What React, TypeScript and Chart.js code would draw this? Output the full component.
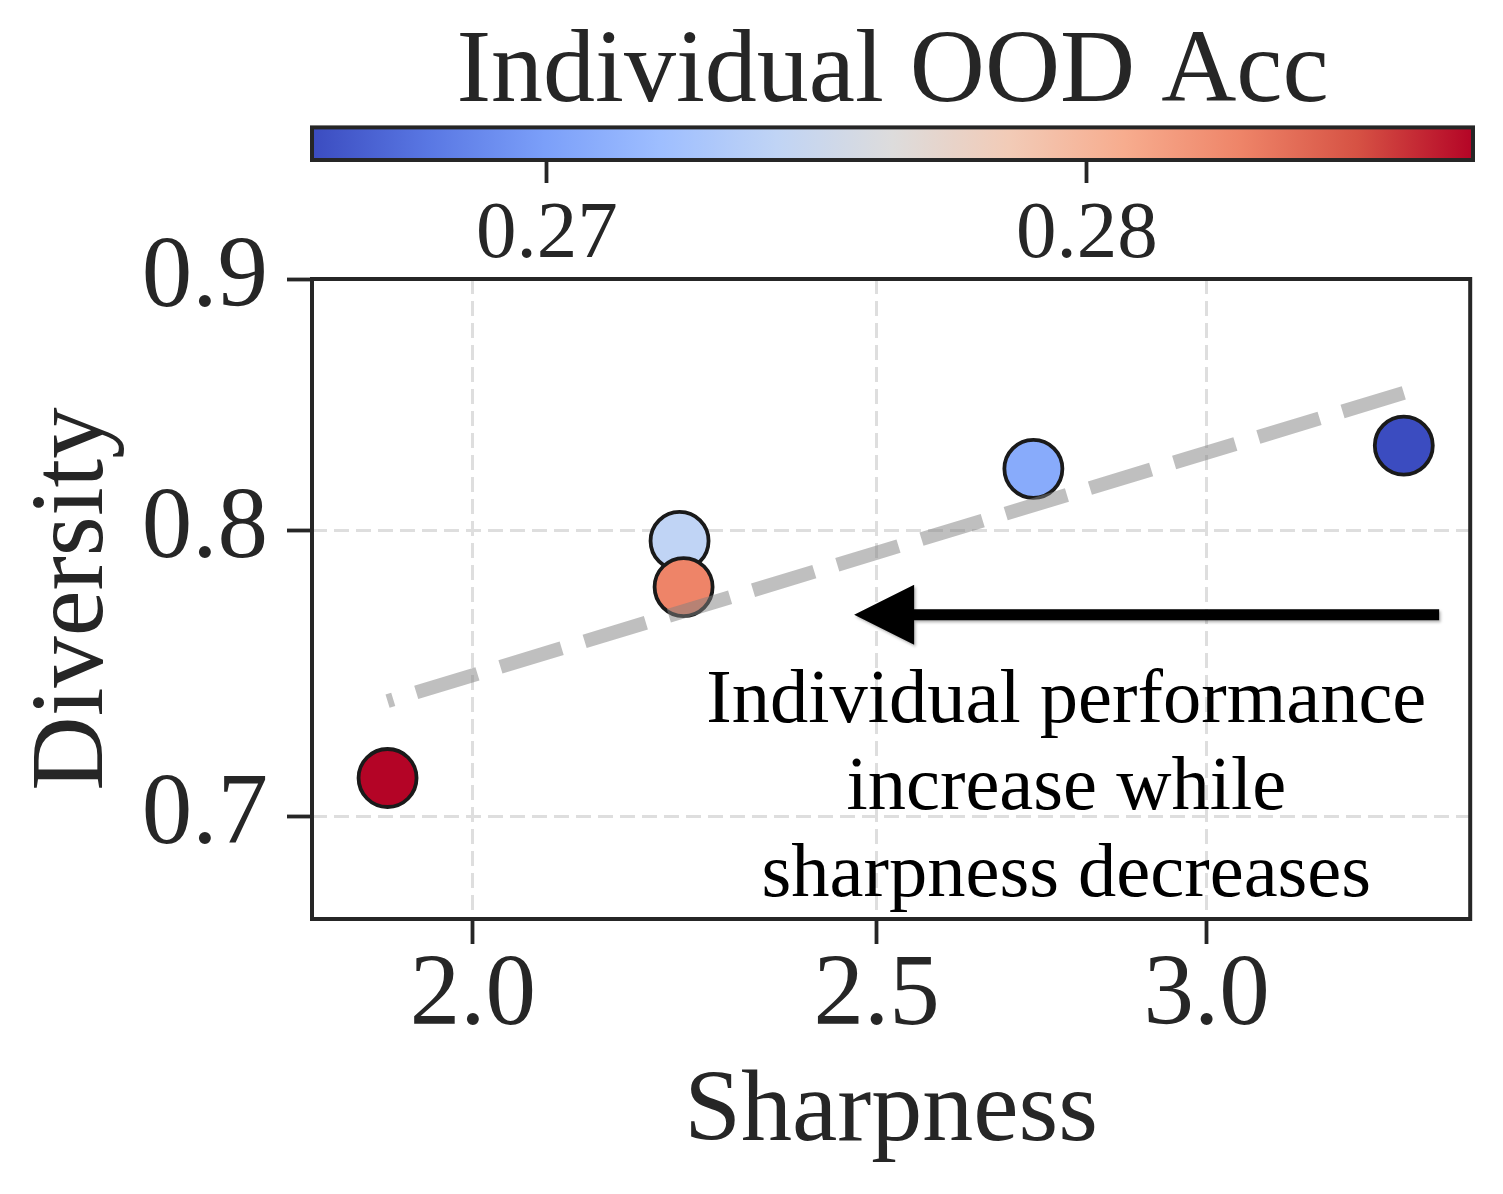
import React, { useEffect, useRef } from "react";
import { Chart, registerables } from "chart.js";

Chart.register(...registerables);

// ---------------- data ----------------
const SHARPNESS = [1.908, 2.242, 2.247, 2.726, 3.345];
const DIVERSITY = [0.7126, 0.7962, 0.7792, 0.8235, 0.8325];
const OOD_ACC = [0.28715, 0.27425, 0.28285, 0.27075, 0.26565];

const TREND_X = [3.345, 1.908];
const TREND_Y = [0.8533, 0.7387];

const X_TICKS = [2.0, 2.5, 3.0];
const Y_TICKS = [0.7, 0.8, 0.9];
const CBAR_TICKS = [0.27, 0.28];
const X_RANGE = [1.83, 3.47];
const Y_RANGE = [0.6671, 0.9];

const ARROW_FROM = [3.411, 0.7692];
const ARROW_TO = [2.469, 0.7692];
const NOTE_AT = [2.776, 0.7315];
const NOTE_LINES = ["Individual performance", "increase while", "sharpness decreases"];

const X_TITLE = "Sharpness";
const Y_TITLE = "Diversity";
const CBAR_TITLE = "Individual OOD Acc";

const COOLWARM = [
  "#3b4cc0", "#5977e3", "#7b9ff9", "#9ebeff", "#c0d4f5", "#dddcdc",
  "#f2cbb7", "#f7ac8e", "#ee8468", "#d65244", "#b40426",
];

// ---------------- helpers ----------------
const FONT = "Liberation Serif";
const INK = "#262626";

function hexToRgb(h: string) {
  return [parseInt(h.slice(1, 3), 16), parseInt(h.slice(3, 5), 16), parseInt(h.slice(5, 7), 16)];
}
function coolwarm(t: number) {
  const c = Math.max(0, Math.min(1, t)) * (COOLWARM.length - 1);
  const i = Math.min(Math.floor(c), COOLWARM.length - 2);
  const f = c - i;
  const a = hexToRgb(COOLWARM[i]);
  const b = hexToRgb(COOLWARM[i + 1]);
  const r = a.map((v, k) => Math.round(v + (b[k] - v) * f));
  return `rgb(${r[0]},${r[1]},${r[2]})`;
}

const VMIN = Math.min(...OOD_ACC);
const VMAX = Math.max(...OOD_ACC);

const framePlugin = {
  id: "frameAndNote",
  afterDraw(chart: any) {
    const { ctx, chartArea: a, scales } = chart;
    const xs = scales.x;
    const ys = scales.y;
    ctx.save();
    ctx.strokeStyle = INK;
    ctx.lineWidth = 4;
    ctx.strokeRect(a.left, a.top, a.right - a.left, a.bottom - a.top);
    ctx.restore();

    // arrow
    const x0 = xs.getPixelForValue(ARROW_FROM[0]);
    const y0 = ys.getPixelForValue(ARROW_FROM[1]);
    const x1 = xs.getPixelForValue(ARROW_TO[0]);
    const y1 = ys.getPixelForValue(ARROW_TO[1]);
    const headL = 60;
    const headW = 30;
    const shaftW = 11;
    const len = Math.hypot(x1 - x0, y1 - y0);
    ctx.save();
    ctx.fillStyle = "#000";
    ctx.shadowColor = "rgba(0,0,0,0.3)";
    ctx.shadowBlur = 3;
    ctx.shadowOffsetX = 1.5;
    ctx.shadowOffsetY = 2;
    ctx.translate(x1, y1);
    ctx.rotate(Math.atan2(y1 - y0, x1 - x0));
    ctx.beginPath();
    ctx.moveTo(0, 0);
    ctx.lineTo(-headL, -headW);
    ctx.lineTo(-headL, -shaftW / 2);
    ctx.lineTo(-len, -shaftW / 2);
    ctx.lineTo(-len, shaftW / 2);
    ctx.lineTo(-headL, shaftW / 2);
    ctx.lineTo(-headL, headW);
    ctx.closePath();
    ctx.fill();
    ctx.restore();

    // note text
    ctx.save();
    ctx.font = `76.5px "${FONT}"`;
    ctx.fillStyle = "#000";
    ctx.textAlign = "center";
    ctx.textBaseline = "alphabetic";
    const tx = xs.getPixelForValue(NOTE_AT[0]);
    const ty = ys.getPixelForValue(NOTE_AT[1]);
    NOTE_LINES.forEach((line, i) => ctx.fillText(line, tx, ty + i * 87));
    ctx.restore();
  },
};

const cbarPlugin = {
  id: "cbar",
  beforeDatasetsDraw(chart: any) {
    const { ctx, chartArea: a } = chart;
    const g = ctx.createLinearGradient(a.left, 0, a.right, 0);
    COOLWARM.forEach((c, i) => g.addColorStop(i / (COOLWARM.length - 1), c));
    ctx.save();
    ctx.fillStyle = g;
    ctx.fillRect(a.left, a.top, a.right - a.left, a.bottom - a.top);
    ctx.strokeStyle = INK;
    ctx.lineWidth = 4;
    ctx.strokeRect(a.left, a.top, a.right - a.left, a.bottom - a.top);
    ctx.restore();
  },
};

export default function App() {
  const mainRef = useRef<HTMLCanvasElement | null>(null);
  const cbarRef = useRef<HTMLCanvasElement | null>(null);

  useEffect(() => {
    document.body.style.margin = "0";
    document.body.style.background = "#fff";
    Chart.defaults.font.family = FONT;
    Chart.defaults.color = INK;

    const pointColors = OOD_ACC.map((v) => coolwarm((v - VMIN) / (VMAX - VMIN)));

    const main = new Chart(mainRef.current as HTMLCanvasElement, {
      type: "scatter",
      data: {
        datasets: [
          {
            label: "trend",
            data: TREND_X.map((v, i) => ({ x: v, y: TREND_Y[i] })),
            showLine: true,
            pointRadius: 0,
            pointHoverRadius: 0,
            borderColor: "rgba(128,128,128,0.5)",
            borderWidth: 14,
            borderDash: [64, 24],
            borderCapStyle: "butt",
            fill: false,
            order: 0,
          } as any,
          {
            label: "models",
            data: SHARPNESS.map((v, i) => ({ x: v, y: DIVERSITY[i] })),
            pointRadius: 29,
            pointHoverRadius: 29,
            pointBackgroundColor: pointColors,
            pointHoverBackgroundColor: pointColors,
            pointBorderColor: "#1a1a1a",
            pointHoverBorderColor: "#1a1a1a",
            pointBorderWidth: 3.8,
            pointHoverBorderWidth: 3.8,
            order: 1,
          } as any,
        ],
      },
      options: {
        responsive: false,
        maintainAspectRatio: false,
        animation: false,
        devicePixelRatio: 1,
        events: [],
        layout: { padding: { top: 279, right: 30, left: 0, bottom: 0 } },
        plugins: { legend: { display: false }, tooltip: { enabled: false }, title: { display: false } },
        scales: {
          x: {
            type: "logarithmic",
            position: "bottom",
            min: X_RANGE[0],
            max: X_RANGE[1],
            bounds: "data",
            afterBuildTicks: (s: any) => {
              s.ticks = X_TICKS.map((v) => ({ value: v }));
            },
            afterFit: (s: any) => {
              s.height = 275;
            },
            ticks: {
              autoSkip: false,
              maxRotation: 0,
              padding: 3,
              color: INK,
              font: { family: FONT, size: 101, lineHeight: 1 },
              callback: (v: any) => Number(v).toFixed(1),
            },
            grid: {
              color: "#dedede",
              lineWidth: 3,
              tickColor: INK,
              tickWidth: 3.8,
              tickLength: 25,
              tickBorderDash: [],
            },
            border: { display: false, dash: [15, 7] },
            title: {
              display: true,
              text: X_TITLE,
              color: INK,
              font: { family: FONT, size: 102, lineHeight: 1.2 },
              padding: { top: 0, bottom: 19.8 },
            },
          } as any,
          y: {
            type: "logarithmic",
            position: "left",
            min: Y_RANGE[0],
            max: Y_RANGE[1],
            bounds: "data",
            afterBuildTicks: (s: any) => {
              s.ticks = Y_TICKS.map((v) => ({ value: v }));
            },
            afterFit: (s: any) => {
              s.width = 312;
            },
            ticks: {
              autoSkip: false,
              padding: 19,
              color: INK,
              font: { family: FONT, size: 101, lineHeight: 1 },
              callback: (v: any) => Number(v).toFixed(1),
            },
            grid: {
              color: "#dedede",
              lineWidth: 3,
              tickColor: INK,
              tickWidth: 3.8,
              tickLength: 25,
              tickBorderDash: [],
            },
            border: { display: false, dash: [15, 7] },
            title: {
              display: true,
              text: Y_TITLE,
              color: INK,
              font: { family: FONT, size: 103, lineHeight: 1.2 },
              padding: { top: 13, bottom: 0 },
            },
          } as any,
        },
      },
      plugins: [framePlugin],
    });

    const cbar = new Chart(cbarRef.current as HTMLCanvasElement, {
      type: "scatter",
      data: { datasets: [] },
      options: {
        responsive: false,
        maintainAspectRatio: false,
        animation: false,
        devicePixelRatio: 1,
        events: [],
        layout: { padding: { top: 0, right: 30, left: 312, bottom: 0 } },
        plugins: {
          legend: { display: false },
          tooltip: { enabled: false },
          title: {
            display: true,
            text: CBAR_TITLE,
            color: INK,
            font: { family: FONT, size: 104, lineHeight: 1.2, weight: "normal" },
            padding: { top: 11, bottom: -8.4 },
          },
        },
        scales: {
          x: {
            type: "linear",
            position: "bottom",
            min: VMIN,
            max: VMAX,
            bounds: "data",
            afterBuildTicks: (s: any) => {
              s.ticks = CBAR_TICKS.map((v) => ({ value: v }));
            },
            afterFit: (s: any) => {
              s.height = 115;
            },
            ticks: {
              autoSkip: false,
              maxRotation: 0,
              padding: 12,
              color: INK,
              font: { family: FONT, size: 81, lineHeight: 1 },
              callback: (v: any) => Number(v).toFixed(2),
            },
            grid: {
              drawOnChartArea: false,
              tickColor: INK,
              tickWidth: 3.8,
              tickLength: 23,
            },
            border: { display: false },
          } as any,
          y: { display: false, min: 0, max: 1 } as any,
        },
      },
      plugins: [cbarPlugin],
    });

    return () => {
      main.destroy();
      cbar.destroy();
    };
  }, []);

  return (
    <div style={{ position: "relative", width: 1503, height: 1194, background: "#fff", overflow: "hidden" }}>
      <canvas ref={mainRef} width={1503} height={1194} style={{ position: "absolute", left: 0, top: 0 }} />
      <canvas ref={cbarRef} width={1503} height={275} style={{ position: "absolute", left: 0, top: 0 }} />
    </div>
  );
}
